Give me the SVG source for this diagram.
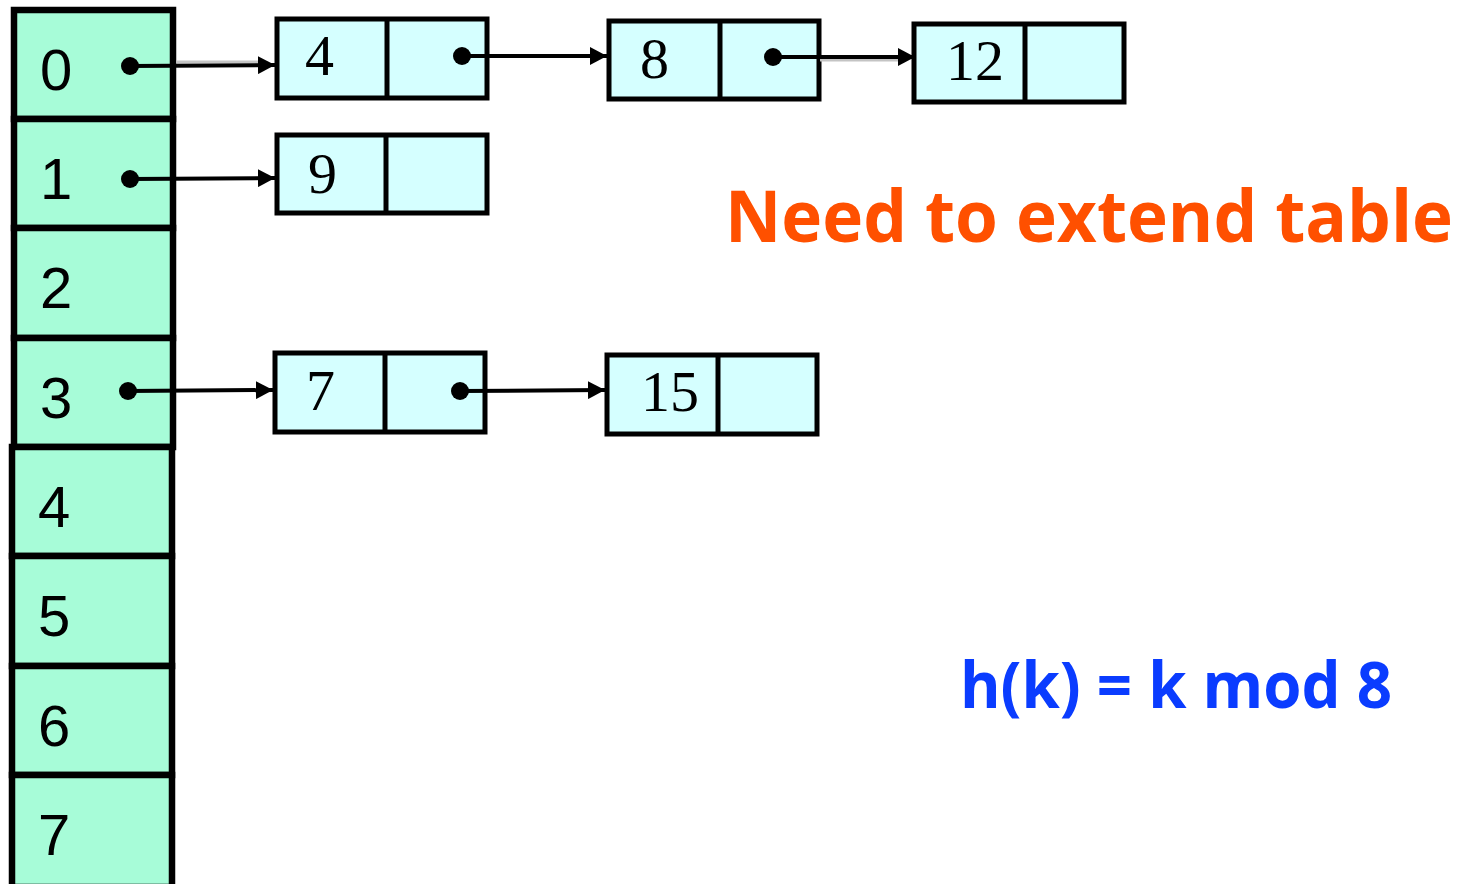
<svg xmlns="http://www.w3.org/2000/svg" width="1478" height="884" viewBox="0 0 1478 884">
  <style>
    .slot { fill: #A7FCD8; stroke: #000; stroke-width: 6.5; }
    .slot-label { font-family: "Liberation Sans", Arial, sans-serif; font-size: 58px; fill: #000; }
    .cell { fill: #D5FFFF; stroke: #000; stroke-width: 5; }
    .div { stroke: #000; stroke-width: 5; }
    .key { font-family: "Liberation Serif", "Times New Roman", serif; font-size: 58px; fill: #000; }
    .ptr { stroke: #000; stroke-width: 4; fill: none; marker-end: url(#head); }
    .shadow { stroke: #C4C4C4; stroke-width: 3; fill: none; }
    .dot { fill: #000; }
    .note { font-family: "Open Sans", "Liberation Sans", sans-serif; font-weight: bold; }
  </style>
  <defs>
    <marker id="head" markerUnits="userSpaceOnUse" markerWidth="18" markerHeight="18" refX="17" refY="9" orient="auto">
      <path d="M0,0 L17,9 L0,18 z" fill="#000"/>
    </marker>
  </defs>

  <!-- hash table slots -->
  <g id="slot-0"><rect class="slot" x="14" y="10" width="159" height="109"/><text class="slot-label" x="40" y="90">0</text></g>
  <g id="slot-1"><rect class="slot" x="14" y="119" width="159" height="109"/><text class="slot-label" x="40" y="199">1</text></g>
  <g id="slot-2"><rect class="slot" x="14" y="228" width="159" height="110"/><text class="slot-label" x="40" y="308">2</text></g>
  <g id="slot-3"><rect class="slot" x="14" y="338" width="159" height="109"/><text class="slot-label" x="40" y="418">3</text></g>
  <g id="slot-4"><rect class="slot" x="12" y="447" width="160" height="109"/><text class="slot-label" x="38" y="527">4</text></g>
  <g id="slot-5"><rect class="slot" x="12" y="556" width="160" height="110"/><text class="slot-label" x="38" y="636">5</text></g>
  <g id="slot-6"><rect class="slot" x="12" y="666" width="160" height="109"/><text class="slot-label" x="38" y="746">6</text></g>
  <g id="slot-7"><rect class="slot" x="12" y="775" width="160" height="112"/><text class="slot-label" x="38" y="855">7</text></g>

  <!-- list nodes: key cell | next cell -->
  <g id="node-4">
    <rect class="cell" x="277" y="19" width="210" height="79"/>
    <line class="div" x1="387" y1="19" x2="387" y2="98"/>
    <text class="key" x="305" y="75">4</text>
  </g>
  <g id="node-8">
    <rect class="cell" x="609" y="21" width="210" height="78"/>
    <line class="div" x1="720" y1="21" x2="720" y2="99"/>
    <text class="key" x="640" y="78">8</text>
  </g>
  <g id="node-12">
    <rect class="cell" x="914" y="24" width="210" height="78"/>
    <line class="div" x1="1025" y1="24" x2="1025" y2="102"/>
    <text class="key" x="946" y="80">12</text>
  </g>
  <g id="node-9">
    <rect class="cell" x="277" y="135" width="210" height="78"/>
    <line class="div" x1="386" y1="135" x2="386" y2="213"/>
    <text class="key" x="308" y="193">9</text>
  </g>
  <g id="node-7">
    <rect class="cell" x="275" y="353" width="210" height="79"/>
    <line class="div" x1="385" y1="353" x2="385" y2="432"/>
    <text class="key" x="306" y="410">7</text>
  </g>
  <g id="node-15">
    <rect class="cell" x="607" y="355" width="210" height="79"/>
    <line class="div" x1="718" y1="355" x2="718" y2="434"/>
    <text class="key" x="641" y="411">15</text>
  </g>

  <!-- pointers -->
  <g id="connectors">
    <line class="shadow" x1="177" y1="62" x2="262" y2="62"/>
    <line class="shadow" x1="820" y1="60" x2="905" y2="60"/>
    <line class="ptr" x1="130" y1="66" x2="275" y2="65"/>
    <line class="ptr" x1="462" y1="56" x2="607" y2="56"/>
    <line class="ptr" x1="773" y1="57" x2="915" y2="57"/>
    <line class="ptr" x1="130" y1="179" x2="275" y2="178"/>
    <line class="ptr" x1="128" y1="391" x2="273" y2="390"/>
    <line class="ptr" x1="460" y1="391" x2="605" y2="390"/>
    <circle class="dot" cx="130" cy="66" r="9"/>
    <circle class="dot" cx="462" cy="56" r="9"/>
    <circle class="dot" cx="773" cy="57" r="9"/>
    <circle class="dot" cx="130" cy="179" r="9"/>
    <circle class="dot" cx="128" cy="391" r="9"/>
    <circle class="dot" cx="460" cy="391" r="9"/>
  </g>

  <!-- annotations -->
  <text class="note" x="725" y="242" font-size="71" fill="#FF5000" textLength="728" lengthAdjust="spacingAndGlyphs">Need to extend table</text>
  <text class="note" x="960" y="708" font-size="64" fill="#0A3CFF" textLength="432" lengthAdjust="spacingAndGlyphs">h(k) = k mod 8</text>
</svg>
